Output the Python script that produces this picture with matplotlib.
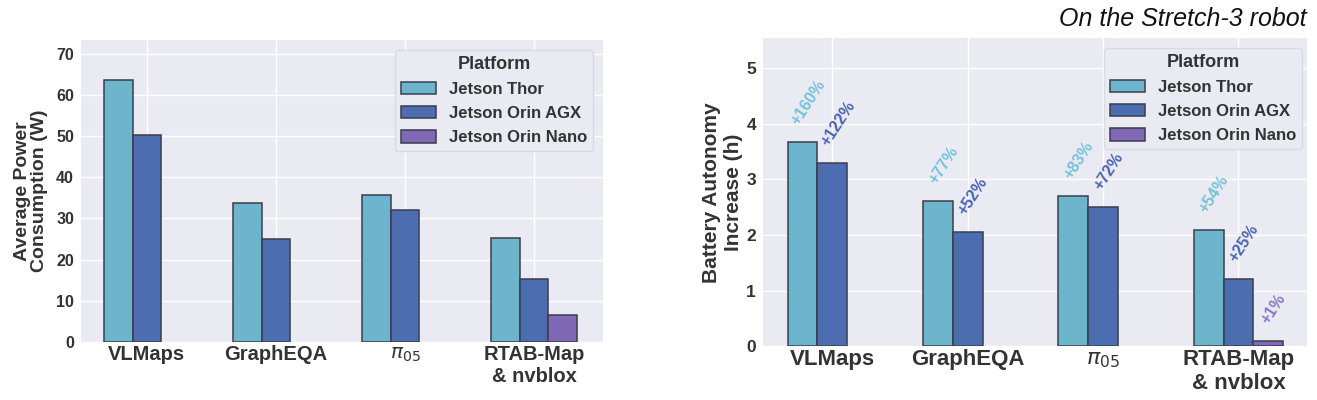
import numpy as np
import matplotlib.pyplot as plt

plt.rcParams['font.family'] = ['Liberation Sans', 'DejaVu Sans']

methods = ['VLMaps', 'GraphEQA', r'$\pi_{05}$', 'RTAB-Map\n& nvblox']
platforms = ['Jetson Thor', 'Jetson Orin AGX', 'Jetson Orin Nano']

power_thor = [63.6, 33.8, 35.8, 25.3]
power_agx = [50.2, 24.9, 32.0, 15.3]
power_nano = [np.nan, np.nan, np.nan, 6.55]

autonomy_thor = [3.68, 2.61, 2.71, 2.09]
autonomy_agx = [3.29, 2.05, 2.51, 1.21]
autonomy_nano = [np.nan, np.nan, np.nan, 0.09]

gain_thor = ['+160%', '+77%', '+83%', '+54%']
gain_agx = ['+122%', '+52%', '+72%', '+25%']
gain_nano = [None, None, None, '+1%']

bar_colors = ['#6db5cd', '#4d6db1', '#8068b6']
text_colors = ['#72c3d8', '#4a64b2', '#8a78c2']
ink = '#333333'
bg = '#eaeaf2'
width = 0.22


def style_axes(ax, xsize, ysize):
    ax.set_facecolor(bg)
    ax.grid(True, color='white', linewidth=1.0)
    ax.set_axisbelow(True)
    for s in ax.spines.values():
        s.set_visible(False)
    ax.tick_params(length=0)
    ax.tick_params(axis='y', pad=5, labelsize=ysize, labelcolor=ink)
    ax.tick_params(axis='x', pad=2, labelsize=xsize, labelcolor=ink)
    for lab in ax.get_yticklabels():
        lab.set_fontweight('bold')
    for lab in ax.get_xticklabels():
        lab.set_fontweight('bold')


def draw_bars(ax, series):
    x = np.arange(len(methods))
    offsets = [-width, 0, width]
    bars = []
    for vals, off, col, name in zip(series, offsets, bar_colors, platforms):
        b = ax.bar(x + off, vals, width, color=col, edgecolor='#3a3d4c',
                   linewidth=1.1, label=name)
        bars.append(b)
    ax.set_xticks(x)
    ax.set_xticklabels(methods)
    return bars


def add_legend(ax, anchor):
    leg = ax.legend(title='Platform', loc='upper right', bbox_to_anchor=anchor,
                    prop={'weight': 'bold', 'size': 12},
                    title_fontproperties={'weight': 'bold', 'size': 13},
                    labelspacing=0.55, handlelength=2.1, handleheight=0.75,
                    handletextpad=0.8, borderpad=0.35, borderaxespad=0,
                    frameon=True, fancybox=True)
    leg.get_frame().set_facecolor(bg)
    leg.get_frame().set_edgecolor('#dadae2')
    leg.get_frame().set_alpha(1)
    for t in leg.get_texts():
        t.set_color(ink)
    leg.get_title().set_color(ink)


fig = plt.figure(figsize=(13.17, 4.0), dpi=100)

# left: power
ax1 = fig.add_axes([0.0615, 0.145, 0.3964, 0.755])
draw_bars(ax1, [power_thor, power_agx, power_nano])
ax1.set_xlim(-0.51, 3.535)
ax1.set_ylim(0, 73.3)
ax1.set_yticks(np.arange(0, 71, 10))
ax1.set_ylabel('Average Power\nConsumption (W)', fontsize=14, fontweight='bold',
               color=ink, labelpad=6, linespacing=1.0)
style_axes(ax1, 14.5, 11.5)
add_legend(ax1, (0.981, 0.967))

# right: battery autonomy
ax2 = fig.add_axes([0.5793, 0.1338, 0.4131, 0.771])
bars = draw_bars(ax2, [autonomy_thor, autonomy_agx, autonomy_nano])
ax2.set_xlim(-0.513, 3.506)
ax2.set_ylim(0, 5.54)
ax2.set_yticks(np.arange(0, 6, 1))
ax2.set_ylabel('Battery Autonomy\nIncrease (h)', fontsize=15, fontweight='bold',
               color=ink, labelpad=2, linespacing=1.25)
style_axes(ax2, 16, 12.5)
add_legend(ax2, (0.991, 0.968))

for b, gains, col in zip(bars, [gain_thor, gain_agx, gain_nano], text_colors):
    for rect, g in zip(b, gains):
        if g is None:
            continue
        xc = rect.get_x() + rect.get_width() / 2 + 0.04
        ax2.text(xc, rect.get_height() + 0.26, g, rotation=57, ha='center',
                 va='bottom', fontsize=11.5, fontweight='bold', color=col)

fig.text(0.9925, 0.952, 'On the Stretch-3 robot', ha='right', va='center',
         fontsize=18, style='italic', color='#111111')

fig.savefig('out.png', dpi=100)
